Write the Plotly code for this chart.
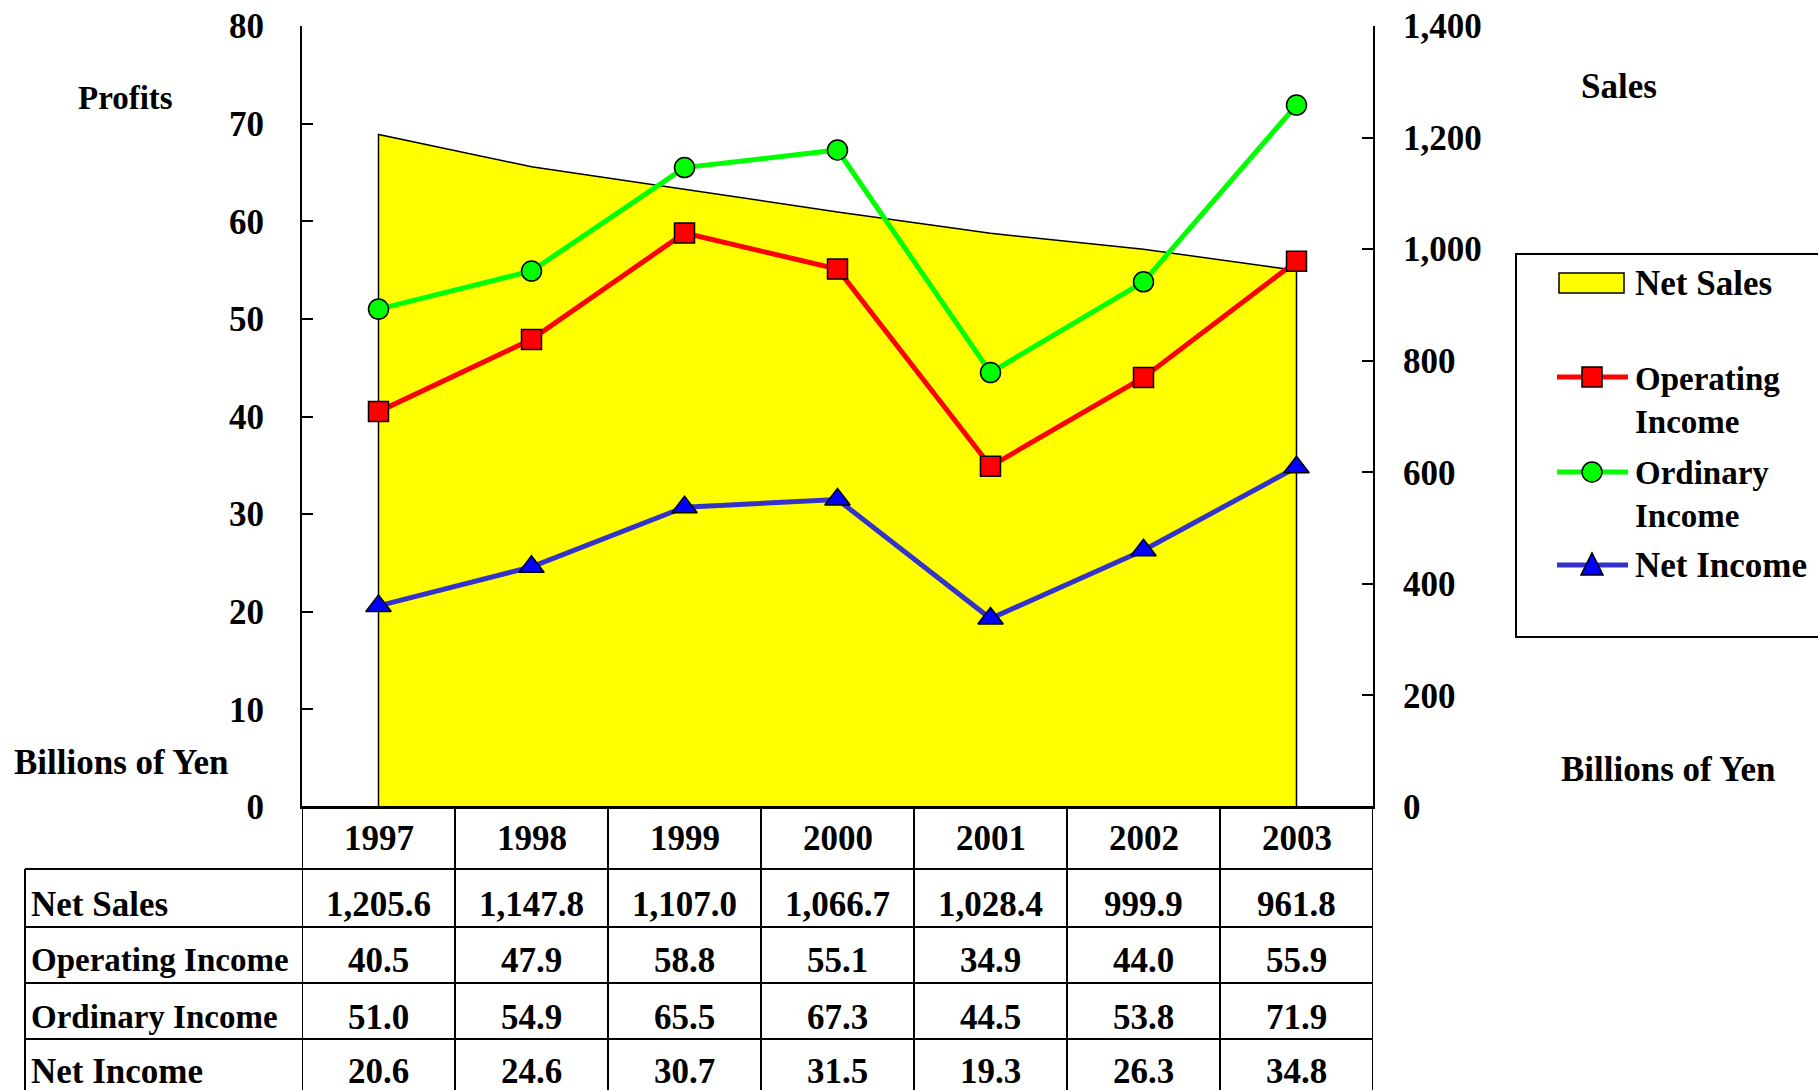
import plotly.graph_objects as go

years = [1997, 1998, 1999, 2000, 2001, 2002, 2003]
net_sales = [1205.6, 1147.8, 1107.0, 1066.7, 1028.4, 999.9, 961.8]
operating_income = [40.5, 47.9, 58.8, 55.1, 34.9, 44.0, 55.9]
ordinary_income = [51.0, 54.9, 65.5, 67.3, 44.5, 53.8, 71.9]
net_income = [20.6, 24.6, 30.7, 31.5, 19.3, 26.3, 34.8]
row_labels = ["Net Sales", "Operating Income", "Ordinary Income", "Net Income"]

W, H = 1818, 1090
L, R, T, B = 302, 1373, 26, 807
FONT = "Liberation Serif"
FS = 35
FS_NARROW = 33


def xp(px):
    return (px - L) / (R - L)


def yp(py):
    return (B - py) / (B - T)


fig = go.Figure()

# Net Sales area (right axis, drawn underneath)
fig.add_trace(go.Scatter(
    x=[years[0]] + years + [years[-1]],
    y=[0] + net_sales + [0],
    fill="toself", fillcolor="#FFFF00",
    mode="lines", line=dict(color="black", width=1.5),
    yaxis="y", name="Net Sales", showlegend=False, hoverinfo="skip"))

line_specs = [
    (operating_income, "#FF0000", "square", 20, "Operating Income"),
    (ordinary_income, "#00FF00", "circle", 20, "Ordinary Income"),
    (net_income, "#3333CC", "triangle-up", 22, "Net Income"),
]
for vals, col, sym, sz, nm in line_specs:
    mc = "#0000FF" if sym == "triangle-up" else col
    fig.add_trace(go.Scatter(
        x=years, y=vals, yaxis="y2", mode="lines+markers", name=nm,
        line=dict(color=col, width=5),
        marker=dict(symbol=sym, size=sz, color=mc,
                    line=dict(color="black", width=1.5)),
        showlegend=False))

shapes = []
annotations = []

# Table
row_lines = [869, 927, 983, 1039]
row_centers = [905, 960, 1017, 1071]
label_sizes = [FS, FS_NARROW, FS_NARROW, FS]
bottom = 1110
shapes.append(dict(type="line", xref="paper", yref="paper", x0=xp(L), x1=xp(R),
                   y0=yp(B), y1=yp(B), line=dict(color="black", width=2)))
for ry in row_lines:
    shapes.append(dict(type="line", xref="paper", yref="paper", x0=xp(25), x1=xp(R),
                       y0=yp(ry), y1=yp(ry), line=dict(color="black", width=2)))
shapes.append(dict(type="line", xref="paper", yref="paper", x0=xp(25), x1=xp(25),
                   y0=yp(869), y1=yp(bottom), line=dict(color="black", width=2)))
for i in range(len(years) + 1):
    xv = years[0] - 0.5 + i
    shapes.append(dict(type="line", xref="x", yref="paper", x0=xv, x1=xv,
                       y0=yp(B), y1=yp(bottom), line=dict(color="black", width=2)))

for yr in years:
    annotations.append(dict(x=yr, y=yp(838), xref="x", yref="paper", text=str(yr),
                            showarrow=False, xanchor="center", yanchor="middle"))
table_rows = [
    [f"{v:,.1f}" for v in net_sales],
    [f"{v:.1f}" for v in operating_income],
    [f"{v:.1f}" for v in ordinary_income],
    [f"{v:.1f}" for v in net_income],
]
for lab, vals, cy, lfs in zip(row_labels, table_rows, row_centers, label_sizes):
    annotations.append(dict(x=xp(29), y=yp(cy), xref="paper", yref="paper", text=lab,
                            showarrow=False, xanchor="left", yanchor="middle",
                            font=dict(size=lfs)))
    for yr, t in zip(years, vals):
        annotations.append(dict(x=yr, y=yp(cy), xref="x", yref="paper", text=t,
                                showarrow=False, xanchor="center", yanchor="middle"))

# Axis titles
annotations += [
    dict(x=xp(125), y=yp(98), xref="paper", yref="paper", text="Profits",
         showarrow=False, xanchor="center", yanchor="middle", font=dict(size=FS_NARROW)),
    dict(x=xp(12), y=yp(762), xref="paper", yref="paper", text="Billions of Yen",
         showarrow=False, xanchor="left", yanchor="middle"),
    dict(x=xp(1619), y=yp(87), xref="paper", yref="paper", text="Sales",
         showarrow=False, xanchor="center", yanchor="middle"),
    dict(x=xp(1668), y=yp(769), xref="paper", yref="paper", text="Billions of Yen",
         showarrow=False, xanchor="center", yanchor="middle"),
]

# Manual legend
shapes.append(dict(type="rect", xref="paper", yref="paper", x0=xp(1516), x1=xp(1840),
                   y0=yp(254), y1=yp(637), line=dict(color="black", width=2),
                   fillcolor="white", layer="below"))
shapes.append(dict(type="rect", xref="paper", yref="paper", x0=xp(1559), x1=xp(1624),
                   y0=yp(273), y1=yp(293), line=dict(color="black", width=1.5),
                   fillcolor="#FFFF00"))
annotations.append(dict(x=xp(1633), y=yp(283), xref="paper", yref="paper", text="Net Sales",
                        showarrow=False, xanchor="left", yanchor="middle"))
leg_items = [(377, 400, "Operating<br>Income", "#FF0000", "square", FS_NARROW),
             (472, 494, "Ordinary<br>Income", "#00FF00", "circle", FS_NARROW),
             (565, 565, "Net Income", "#3333CC", "triangle", FS)]
cx = 1592
for ly, ty, txt, col, sym, lfs in leg_items:
    shapes.append(dict(type="line", xref="paper", yref="paper", x0=xp(1557), x1=xp(1628),
                       y0=yp(ly), y1=yp(ly), line=dict(color=col, width=5)))
    if sym == "square":
        shapes.append(dict(type="rect", xref="paper", yref="paper", x0=xp(cx - 10), x1=xp(cx + 10),
                           y0=yp(ly - 10), y1=yp(ly + 10), fillcolor=col,
                           line=dict(color="black", width=1.5)))
    elif sym == "circle":
        shapes.append(dict(type="circle", xref="paper", yref="paper", x0=xp(cx - 10), x1=xp(cx + 10),
                           y0=yp(ly - 10), y1=yp(ly + 10), fillcolor=col,
                           line=dict(color="black", width=1.5)))
    else:
        path = (f"M {xp(cx - 11)} {yp(ly + 10)} L {xp(cx + 11)} {yp(ly + 10)} "
                f"L {xp(cx)} {yp(ly - 12)} Z")
        shapes.append(dict(type="path", xref="paper", yref="paper", path=path,
                           fillcolor="#0000FF", line=dict(color="black", width=1.5)))
    annotations.append(dict(x=xp(1633), y=yp(ty), xref="paper", yref="paper", text=txt,
                            showarrow=False, xanchor="left", yanchor="middle", align="left",
                            font=dict(size=lfs)))

fig.update_layout(
    width=W, height=H, autosize=False,
    margin=dict(l=L, r=W - R, t=T, b=H - B, pad=0, autoexpand=False),
    paper_bgcolor="white", plot_bgcolor="white",
    font=dict(family=FONT, size=FS, color="black", weight="bold"),
    showlegend=False,
    xaxis=dict(range=[years[0] - 0.5, years[-1] + 0.5], showgrid=False, zeroline=False,
               showline=True, linecolor="black", linewidth=2, showticklabels=False,
               ticks="", fixedrange=True, automargin=False),
    yaxis=dict(range=[0, 1400], dtick=200, tickformat=",", side="right", showgrid=False,
               zeroline=False, showline=True, linecolor="black", linewidth=2,
               ticks="inside", ticklen=11, tickwidth=2, tickcolor="black", automargin=False,
               ticklabelstandoff=21, tickfont=dict(family=FONT, size=FS, weight="bold")),
    yaxis2=dict(range=[0, 80], dtick=10, overlaying="y", side="left", showgrid=False,
                zeroline=False, showline=True, linecolor="black", linewidth=2,
                ticks="inside", ticklen=11, tickwidth=2, tickcolor="black", automargin=False,
                ticklabelstandoff=29, tickfont=dict(family=FONT, size=FS, weight="bold")),
    shapes=shapes,
    annotations=annotations,
)

fig.write_html("out.html")
